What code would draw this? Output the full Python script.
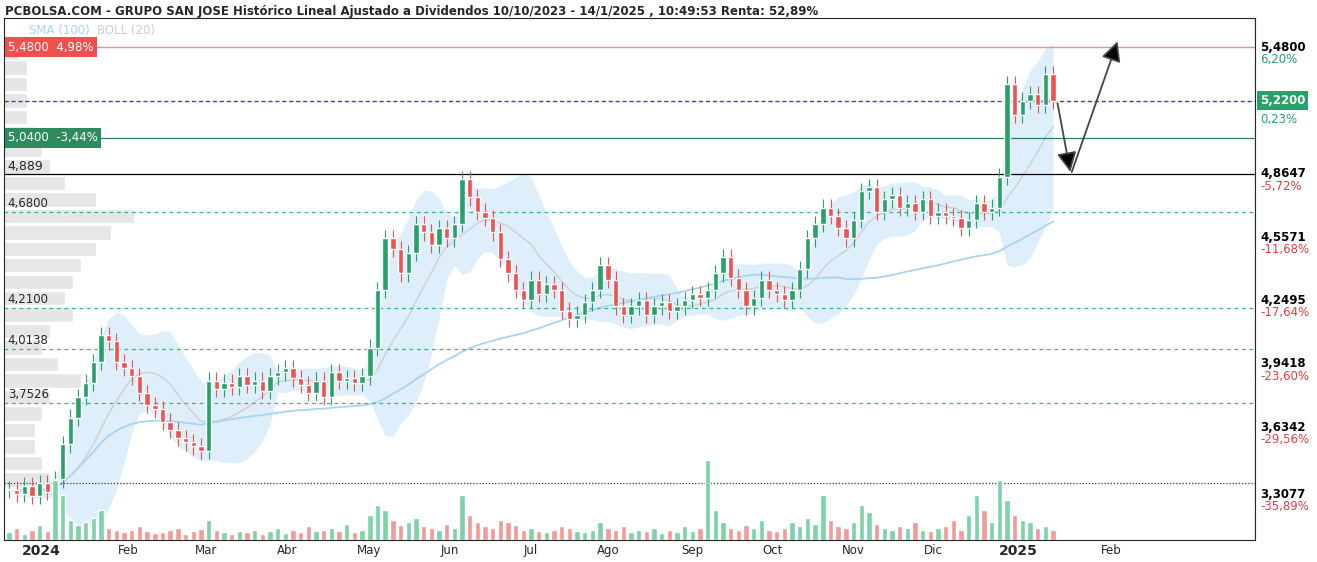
import numpy as np, pandas as pd, matplotlib
matplotlib.use("Agg")
import matplotlib.pyplot as plt, seaborn as sns
sns.set_style("white")
plt.rcParams['font.family'] = ['DejaVu Sans']

closes = [3.33,3.31,3.35,3.30,3.36,3.32,3.38,
 3.55,3.68,3.78,3.85,3.95,4.08, 4.05,3.95,3.92, 3.88,3.80,3.74,3.72,
 3.66,3.62,3.58,3.56,3.54,3.52, 3.86,3.82,3.85,3.83,3.88,
 3.84,3.86,3.81,3.88,3.90,3.92,3.87,3.84,3.80,3.86, 3.78,3.90,3.86,3.87,3.85,3.88,
 4.02,4.30,4.55,4.50,4.38,4.48, 4.62,4.58,4.52,4.60,4.55,4.62, 4.84,4.75,4.68,4.65,4.58,
 4.45,4.38,4.30,4.25,4.35,4.28,4.33, 4.30,4.20,4.16,4.18,4.24,4.30, 4.42,4.35,4.22,4.18,
 4.22,4.25,4.18,4.22,4.24,4.20,4.22,4.25,4.28,4.26, 4.30,4.38,4.46,4.36,4.30,
 4.22,4.26,4.35,4.30,4.28, 4.25,4.30,4.40,4.55,4.62, 4.70,4.66,4.60,4.55,4.64,
 4.78,4.80,4.68,4.74,4.76, 4.70,4.72,4.68,4.74,4.66, 4.68,4.66,4.65,4.60,4.64,
 4.72,4.68,4.70,4.85, 5.30,5.15,5.22,5.25,5.20,5.35,5.22]
volumes = [8,12,6,10,15,9,60, 45,20,15,18,22,30, 12,10,8, 10,14,9,7,
 8,10,12,6,9,11, 20,10,8,6,9, 8,10,6,9,12,7,10,8,14,9, 10,12,9,16,8,10,
 25,35,30,20,15,18, 22,14,12,10,16,12, 45,25,18,14,12,
 20,18,15,10,12,9,8, 10,14,12,9,8,10, 18,12,10,14,
 8,10,9,12,7,10,8,14,9,12, 80,30,18,12,10,
 15,12,20,10,9, 12,18,14,22,16, 45,20,14,12,18,
 35,28,16,12,10, 14,12,18,10,9, 12,14,20,10,25,
 45,30,18,60, 40,25,20,18,12,14,10]
month_labels = ['2024','Feb','Mar','Abr','May','Jun','Jul','Ago','Sep','Oct','Nov','Dic','2025','Feb']
month_idx = [4.2,15.5,25.7,36.2,46.9,57.4,67.9,78.0,89.0,99.4,110.0,120.4,131.4,143.6]
right_vals = [5.48,5.22,4.8647,4.5571,4.2495,3.9418,3.6342,3.3077]
right_labels = ['5,4800','5,2200','4,8647','4,5571','4,2495','3,9418','3,6342','3,3077']
right_pcts = ['6,20%','0,23%','-5,72%','-11,68%','-17,64%','-23,60%','-29,56%','-35,89%']
dash_levels = [4.68,4.21,4.0138,3.7526]
dash_labels = ['4,6800','4,2100','4,0138','3,7526']
profile_prices = [5.45,5.38,5.30,5.22,5.14,5.06,4.98,4.90,4.82,4.74,4.66,4.58,4.50,4.42,4.34,4.26,4.18,4.10,4.02,3.94,3.86,3.78,3.70,3.62,3.54,3.46,3.38]
profile_widths = [2,3,3,3,3,4,5,6,8,12,17,14,12,10,9,8,9,6,5,7,10,6,5,4,4,5,6]

df = pd.DataFrame({'c': closes, 'v': volumes})
df['i'] = np.arange(len(df))
df['o'] = df['c'].shift(1).fillna(df['c'].iloc[0])
df['sma'] = df['c'].rolling(50, min_periods=1).mean()
m = df['c'].rolling(10, min_periods=2).mean(); s = df['c'].rolling(10, min_periods=2).std()
df['bm'], df['bu'], df['bl'] = m, m + 1.6*s, m - 1.6*s

fig = plt.figure(figsize=(13.17, 5.62), dpi=100)
ax = fig.add_axes([0.003, 0.039, 0.950, 0.929])
ax.set_xlim(-0.65, 162.3); ax.set_ylim(3.085, 5.621)
vax = ax.twinx(); vax.set_ylim(0, 522); vax.set_yticks([])
up = df['c'] >= df['o']
vax.bar(df['i'], df['v'], width=0.7, color=np.where(up, '#7dd3a8', '#f29a9a'), zorder=1)

ax.barh(profile_prices, profile_widths, height=0.07, left=-0.65, color='#e6e6e6', zorder=0)
ax.fill_between(df['i'], df['bl'], df['bu'], color='#d6ebfa', alpha=0.8, lw=0, zorder=1)
ax.plot(df['i'], df['bm'], color='#cfcfcf', lw=1, zorder=2)
sns.lineplot(x=df['i'], y=df['sma'], ax=ax, color='#a8d4f2', lw=1.3, zorder=2)
for _, r in df.iterrows():
    col = '#26a269' if r.c >= r.o else '#ef5050'
    hi, lo = max(r.o, r.c) + 0.04, min(r.o, r.c) - 0.04
    ax.vlines(r.i, lo, hi, color=col, lw=0.8, zorder=3)
    ax.bar(r.i, max(abs(r.c - r.o), 0.004), bottom=min(r.o, r.c), width=0.7, color=col, zorder=4)

ax.axhline(5.48, color='#f28b8b', lw=1)
ax.axhline(5.22, color='#3a3ad0', lw=1, ls=(0, (3, 2)))
ax.axhline(5.04, color='#2e7d5b', lw=0.9)
ax.axhline(4.8647, color='black', lw=0.9)
for lv in dash_levels:
    ax.axhline(lv, color='#3bb37d', lw=0.9, ls=(0, (3, 3)))
ax.axhline(3.36, color='#333', lw=0.9, ls=(0, (1, 1.5)))
ax.axvline(162.3, color='#ccc', lw=1)

ax.annotate('', xy=(138.3, 4.86), xytext=(136.5, 5.22),
            arrowprops=dict(arrowstyle='-|>', color='#444', lw=1.3, mutation_scale=30, fc='black'))
ax.annotate('', xy=(144.5, 5.52), xytext=(138.3, 4.86),
            arrowprops=dict(arrowstyle='-|>', color='#444', lw=1.3, mutation_scale=30, fc='black'))

for v, lab, p in zip(right_vals, right_labels, right_pcts):
    bg = dict(boxstyle='square,pad=0.25', fc='#26a269', ec='none') if lab == '5,2200' else None
    ax.text(1.004, v, lab, transform=ax.get_yaxis_transform(), fontsize=8.5, va='center',
            color='white' if bg else 'black', bbox=bg, weight='bold')
    ax.text(1.004, v - (0.09 if bg else 0.06), p, transform=ax.get_yaxis_transform(), fontsize=8.5,
            va='center', color='#26a269' if p[0] != '-' else '#e04040')
for lv, lab in zip(dash_levels, dash_labels):
    ax.text(0.003, lv + 0.01, lab, transform=ax.get_yaxis_transform(), fontsize=8.5, va='bottom')
ax.text(0.003, 4.87, '4,889', transform=ax.get_yaxis_transform(), fontsize=9, va='bottom')
ax.text(0.003, 5.48, '5,4800  4,98%', transform=ax.get_yaxis_transform(), fontsize=8.5, va='center',
        color='white', bbox=dict(boxstyle='square,pad=0.3', fc='#ef5050', ec='none'))
ax.text(0.003, 5.04, '5,0400  -3,44%', transform=ax.get_yaxis_transform(), fontsize=8.5, va='center',
        color='white', bbox=dict(boxstyle='square,pad=0.3', fc='#2e8b5f', ec='none'))
ax.text(0.02, 5.56, 'SMA (100)', transform=ax.get_yaxis_transform(), fontsize=8.5, color='#a8d4f2', va='center')
ax.text(0.074, 5.56, 'BOLL (20)', transform=ax.get_yaxis_transform(), fontsize=8.5, color='#cccccc', va='center')
fig.text(0.004, 0.98, 'PCBOLSA.COM - GRUPO SAN JOSE Histórico Lineal Ajustado a Dividendos 10/10/2023 - 14/1/2025 , 10:49:53 Renta: 52,89%',
         fontsize=8.5, weight='bold', va='center')

ax.set_yticks([]); ax.set_xticks(month_idx)
ax.set_xticklabels(month_labels, fontsize=8.5)
for t in ax.get_xticklabels()[::12]:
    t.set_weight('bold'); t.set_fontsize(10)
ax.tick_params(axis='x', length=0, pad=3)
for sp in ax.spines.values(): sp.set_color('#cccccc')
ax.set_xlabel(''); ax.set_ylabel('')
fig.savefig('out.png', dpi=100)
